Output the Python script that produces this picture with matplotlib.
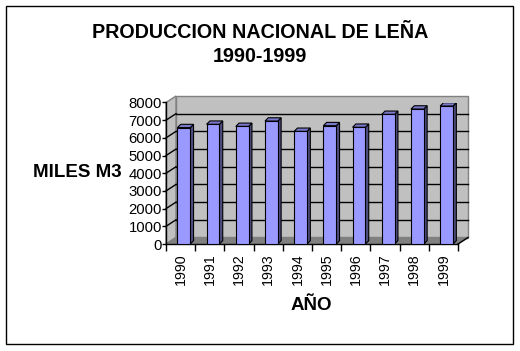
import matplotlib
matplotlib.use("Agg")
import matplotlib.pyplot as plt
from matplotlib.patches import Polygon, Rectangle

plt.rcParams["font.family"] = ["Liberation Sans", "DejaVu Sans"]

# ----------------------------------------------------
# Data
# ----------------------------------------------------

years = ["1990", "1991", "1992", "1993", "1994",
         "1995", "1996", "1997", "1998", "1999"]
miles_m3 = [6580, 6770, 6650, 6950, 6370,
            6690, 6600, 7330, 7630, 7800]
y_ticks = [0, 1000, 2000, 3000, 4000, 5000, 6000, 7000, 8000]

title_1 = "PRODUCCION NACIONAL DE LEÑA"
title_2 = "1990-1999"
y_title = "MILES M3"
x_title = "AÑO"

# ----------------------------------------------------
# Figure / axes
# ----------------------------------------------------

W, H = 520, 351
fig = plt.figure(figsize=(W / 100, H / 100), dpi=100)

# front plane of the 3D box, in pixels
left_px, right_px = 166, 458
bottom_px, top_px = 244, 102.5
ax = fig.add_axes([
    left_px / W,
    1 - bottom_px / H,
    (right_px - left_px) / W,
    (bottom_px - top_px) / H,
])
ax.set_xlim(0, len(years))
ax.set_ylim(0, 8000)
ax.patch.set_visible(False)

# depth offset of the box (data units)
DX = 10 / ((right_px - left_px) / len(years))
DY = 6.5 / (bottom_px - top_px) * 8000
ymax = 8000
n = len(years)

# back wall
ax.add_patch(Polygon(
    [(DX, DY), (n + DX, DY), (n + DX, ymax + DY), (DX, ymax + DY)],
    closed=True, facecolor="#c0c0c0", edgecolor="#808080",
    lw=1, clip_on=False, zorder=1,
))
# left wall
ax.add_patch(Polygon(
    [(0, 0), (DX, DY), (DX, ymax + DY), (0, ymax)],
    closed=True, facecolor="#c0c0c0", edgecolor="#808080",
    lw=1, clip_on=False, zorder=1,
))
# floor
ax.add_patch(Polygon(
    [(0, 0), (n, 0), (n + DX, DY), (DX, DY)],
    closed=True, facecolor="#808080", edgecolor="#808080",
    lw=1, clip_on=False, zorder=1,
))
ax.plot([n, n + DX], [0, DY], color="black", lw=1, clip_on=False, zorder=2)

# gridlines on back and left walls
for t in y_ticks[1:-1]:
    ax.plot([DX, n + DX], [t + DY, t + DY], color="black", lw=1,
            clip_on=False, zorder=2)
    ax.plot([0, DX], [t, t + DY], color="black", lw=1,
            clip_on=False, zorder=2)

# ----------------------------------------------------
# Bars (front face + side + top)
# ----------------------------------------------------

bar_off = 0.39
bar_w = 0.44
bdx = 0.113
bdy = 3.3 / (bottom_px - top_px) * 8000

xs = [i + bar_off + bar_w / 2 for i in range(n)]
ax.bar(xs, miles_m3, width=bar_w, color="#9999ff", edgecolor="black",
       lw=0.8, zorder=5)

for x, v in zip(xs, miles_m3):
    x0, x1 = x - bar_w / 2, x + bar_w / 2
    ax.add_patch(Polygon(
        [(x1, 0), (x1 + bdx, bdy), (x1 + bdx, v + bdy), (x1, v)],
        closed=True, facecolor="#4d4d80", edgecolor="black",
        lw=0.8, zorder=4,
    ))
    ax.add_patch(Polygon(
        [(x0, v), (x1, v), (x1 + bdx, v + bdy), (x0 + bdx, v + bdy)],
        closed=True, facecolor="#7a7acc", edgecolor="black",
        lw=0.8, zorder=4,
    ))

# ----------------------------------------------------
# Axes styling
# ----------------------------------------------------

for s in ["top", "right"]:
    ax.spines[s].set_visible(False)
for s in ["left", "bottom"]:
    ax.spines[s].set_linewidth(1)
    ax.spines[s].set_zorder(3)

ax.set_yticks(y_ticks)
ax.set_yticklabels([str(t) for t in y_ticks], fontsize=10.7)
ax.tick_params(axis="y", direction="out", length=3, width=1, pad=0)

ax.set_xticks(range(n + 1))
ax.set_xticklabels([])
ax.set_xticks([i + 0.5 for i in range(n)], minor=True)
ax.set_xticklabels(years, minor=True, rotation=90, fontsize=10.3)
ax.tick_params(axis="x", which="major", direction="out", length=5, width=1)
ax.tick_params(axis="x", which="minor", length=0, pad=7)

# ----------------------------------------------------
# Titles
# ----------------------------------------------------

fig.text(260 / W, 1 - 32.5 / H, title_1, ha="center", va="center",
         fontsize=14.2, fontweight="bold")
fig.text(260 / W, 1 - 57 / H, title_2, ha="center", va="center",
         fontsize=14.2, fontweight="bold")
fig.text(77 / W, 1 - 173 / H, y_title, ha="center", va="center",
         fontsize=13.5, fontweight="bold")
fig.text(311.5 / W, 1 - 305.5 / H, x_title, ha="center", va="center",
         fontsize=13.5, fontweight="bold")

# chart border
fig.patches.append(Rectangle(
    (6 / W, 1 - 344 / H), 507 / W, 338 / H,
    transform=fig.transFigure, fill=False, edgecolor="black", lw=1,
))

fig.savefig("out.png", dpi=100)
